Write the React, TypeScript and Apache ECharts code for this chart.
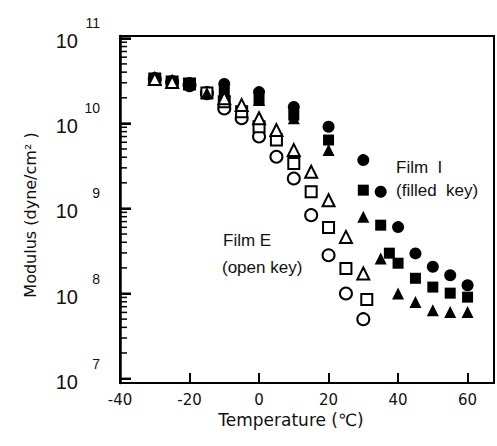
import React, { useEffect, useRef } from "react";
import * as echarts from "echarts";

// ---- Data (temperature in °C, modulus in dyne/cm²) ----
const filledCircleT = [-30, -25, -20, -10, 0, 10, 20, 30, 35, 40, 45, 50, 55, 60];
const filledCircleE = [3.32e10, 3.06e10, 2.98e10, 2.9e10, 2.33e10, 1.56e10, 9.12e9, 3.7e9, 1.57e9, 6.03e8, 2.96e8, 2.06e8, 1.64e8, 1.25e8];

const filledSquareT = [-30, -25, -20, -10, 0, 10, 20, 30, 35, 37.5, 40, 45, 50, 55, 60];
const filledSquareE = [3.32e10, 3.06e10, 2.9e10, 2.33e10, 1.88e10, 1.25e10, 6.37e9, 1.64e9, 6.36e8, 2.98e8, 2.27e8, 1.51e8, 1.19e8, 1.01e8, 9.06e7];

const filledTriangleT = [-30, -25, -20, -15, -10, 0, 10, 20, 30, 35, 40, 45, 50, 55, 60];
const filledTriangleE = [3.32e10, 3.06e10, 2.9e10, 2.27e10, 2.15e10, 1.88e10, 1.15e10, 4.85e9, 7.96e8, 2.58e8, 1.0e8, 7.96e7, 6.36e7, 6.08e7, 6.08e7];

const openCircleT = [-30, -25, -20, -15, -10, -5, 0, 5, 10, 15, 20, 25, 30];
const openCircleE = [3.32e10, 3.06e10, 2.82e10, 2.27e10, 1.5e10, 1.15e10, 7.0e9, 4.05e9, 2.25e9, 8.34e8, 2.82e8, 1.0e8, 4.99e7];

const openSquareT = [-30, -25, -20, -15, -10, -5, 0, 5, 10, 15, 20, 25, 31];
const openSquareE = [3.32e10, 3.06e10, 2.9e10, 2.27e10, 1.8e10, 1.37e10, 9.12e9, 6.37e9, 3.38e9, 1.57e9, 5.97e8, 1.97e8, 8.49e7];

const openTriangleT = [-30, -25, -10, -5, 0, 5, 10, 15, 20, 25, 30];
const openTriangleE = [3.32e10, 3.06e10, 1.97e10, 1.64e10, 1.15e10, 8.34e9, 4.85e9, 2.7e9, 1.25e9, 4.63e8, 1.72e8];

// ---- Axis ticks ----
const tempTicks = [-40, -20, 0, 20, 40, 60];
const decadeExponents = [7, 8, 9, 10, 11];
const minorMantissas = [2, 3, 4, 5, 6, 7, 8, 9];

const X_MIN = -40;
const X_MAX = 67.6;
const Y_MIN = 6.948;
const Y_MAX = 11.027;

const toPoints = (t: number[], e: number[]) => t.map((x, i) => [x, Math.log10(e[i])]);

const minorTicks: number[] = [];
decadeExponents.slice(0, -1).forEach((d) =>
  minorMantissas.forEach((m) => minorTicks.push(d + Math.log10(m)))
);

const FONT = "'Liberation Sans', Arial, sans-serif";
const WIDE = "'DejaVu Sans', sans-serif";

export default function App() {
  const ref = useRef<HTMLDivElement>(null);

  useEffect(() => {
    if (!ref.current) return;
    const chart = echarts.init(ref.current, null, { renderer: "svg" });

    const filled = (name: string, symbol: string, size: number, t: number[], e: number[]) => ({
      type: "scatter",
      name,
      symbol,
      symbolSize: size,
      z: 3,
      data: toPoints(t, e),
      itemStyle: { color: "#000", opacity: 1 },
    });
    const open = (name: string, symbol: string, size: number, z: number, t: number[], e: number[]) => ({
      type: "scatter",
      name,
      symbol,
      symbolSize: size,
      z,
      data: toPoints(t, e),
      itemStyle: { color: "#fff", borderColor: "#000", borderWidth: 2, opacity: 1 },
    });

    // y-axis ticks along the left spine: [x, y(log10), length, width]
    const spineTicks = [
      ...minorTicks.map((v) => [X_MIN, v, 7, 1.5]),
      ...decadeExponents.map((v) => [X_MIN, v, 11, 2]),
    ];

    chart.setOption({
      animation: false,
      backgroundColor: "#fff",
      grid: {
        left: 120,
        right: 3,
        top: 36,
        bottom: 63,
        show: true,
        borderColor: "#000",
        borderWidth: 2,
        backgroundColor: "transparent",
      },
      xAxis: {
        type: "value",
        min: X_MIN,
        max: X_MAX,
        name: "Temperature (℃)",
        nameLocation: "middle",
        nameGap: 23,
        nameTextStyle: { fontFamily: WIDE, fontSize: 17, color: "#111", padding: [0, 32, 0, 0] },
        axisLine: { show: true, onZero: false, lineStyle: { color: "#000", width: 2 } },
        axisTick: {
          show: true,
          inside: true,
          length: 10,
          customValues: tempTicks,
          lineStyle: { color: "#000", width: 2 },
        },
        axisLabel: {
          customValues: tempTicks,
          margin: 9,
          fontFamily: WIDE,
          fontSize: 15,
          color: "#111",
        },
        splitLine: { show: false },
      },
      yAxis: [
        {
          // main axis: spine, and the "10" base of each label
          type: "value",
          min: Y_MIN,
          max: Y_MAX,
          name: "Modulus (dyne/cm² )",
          nameLocation: "middle",
          nameRotate: 90,
          nameGap: 82,
          nameTextStyle: { fontFamily: WIDE, fontSize: 16, color: "#111", padding: [0, 11, 0, 0] },
          axisLine: { show: true, onZero: false, lineStyle: { color: "#000", width: 2.5 } },
          axisTick: {
            show: true,
            inside: true,
            length: 11,
            customValues: decadeExponents,
            lineStyle: { color: "#000", width: 2 },
          },
          axisLabel: {
            customValues: decadeExponents,
            margin: 42,
            lineHeight: 6,
            formatter: () => " \n10",
            fontFamily: FONT,
            fontSize: 20,
            color: "#111",
          },
          splitLine: { show: false },
        },
        {
          // companion axis: the exponent of each label
          type: "value",
          min: Y_MIN,
          max: Y_MAX,
          position: "left",
          axisLine: { show: false, onZero: false },
          axisTick: { show: false },
          axisLabel: {
            customValues: decadeExponents,
            margin: 20,
            lineHeight: 30,
            formatter: (v: number) => `${Math.round(v)}\n `,
            fontFamily: FONT,
            fontSize: 14,
            color: "#111",
          },
          splitLine: { show: false },
        },
      ],
      series: [
        {
          type: "custom",
          name: "log ticks",
          silent: true,
          z: 5,
          clip: false,
          data: spineTicks,
          renderItem: (_params: any, api: any) => {
            const p = api.coord([api.value(0), api.value(1)]);
            return {
              type: "line",
              shape: { x1: p[0], y1: p[1], x2: p[0] + api.value(2), y2: p[1] },
              style: { stroke: "#000", lineWidth: api.value(3) },
            };
          },
        },
        open("Film E circle", "circle", 12, 2, openCircleT, openCircleE),
        open("Film E square", "rect", 11, 2, openSquareT, openSquareE),
        filled("Film I circle", "circle", 12, filledCircleT, filledCircleE),
        filled("Film I square", "rect", 11, filledSquareT, filledSquareE),
        filled("Film I triangle", "triangle", 12, filledTriangleT, filledTriangleE),
        open("Film E triangle", "triangle", 12, 4, openTriangleT, openTriangleE),
      ],
      graphic: [
        { type: "text", left: 396, top: 159, style: { text: "Film  I", font: `17px ${FONT}`, fill: "#111" } },
        { type: "text", left: 396, top: 182, style: { text: "(filled  key)", font: `17px ${FONT}`, fill: "#111" } },
        { type: "text", left: 223, top: 232, style: { text: "Film E", font: `17px ${FONT}`, fill: "#111" } },
        { type: "text", left: 222, top: 259, style: { text: "(open key)", font: `17px ${FONT}`, fill: "#111" } },
      ],
    });

    return () => chart.dispose();
  }, []);

  return (
    <div
      ref={ref}
      style={{ position: "fixed", left: 0, top: 0, width: 497, height: 446, background: "#fff" }}
    />
  );
}
